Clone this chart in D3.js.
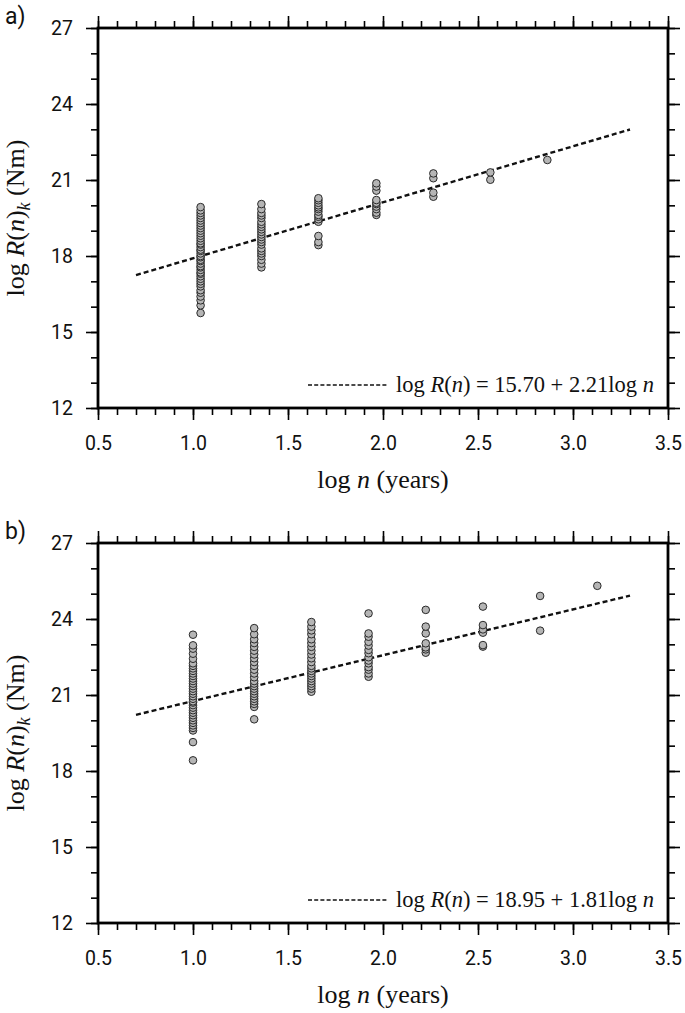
<!DOCTYPE html>
<html>
<head>
<meta charset="utf-8">
<script src="https://cdn.jsdelivr.net/npm/d3@7"></script>
<style>
  html, body { margin: 0; padding: 0; background: #fff; }
  svg { display: block; }
</style>
</head>
<body>
<svg id="chart" width="685" height="1013"></svg>
<script>
// ---------------- DATA ----------------
const xTicks = [0.5, 1.0, 1.5, 2.0, 2.5, 3.0, 3.5];
const yTicks = [12, 15, 18, 21, 24, 27];
const xDomain = [0.5, 3.5];
const yDomain = [12, 27];
const fitRange = [0.7, 3.3];

// Panel a
const aColumnX = [1.04, 1.36, 1.66, 1.965, 2.265, 2.565, 2.865];
const aColumnY = [
  [15.75, 16.05, 16.25, 16.4, 16.55, 16.65, 16.8, 16.9, 17.0, 17.1, 17.2, 17.3, 17.35, 17.45, 17.55, 17.6, 17.7, 17.8, 17.85, 17.95, 18.0, 18.1, 18.2, 18.25, 18.35, 18.45, 18.5, 18.6, 18.7, 18.8, 18.9, 19.0, 19.1, 19.2, 19.3, 19.4, 19.5, 19.6, 19.7, 19.8, 19.93],
  [17.55, 17.7, 17.85, 18.0, 18.1, 18.2, 18.3, 18.45, 18.55, 18.65, 18.75, 18.85, 18.95, 19.05, 19.15, 19.25, 19.35, 19.5, 19.6, 19.7, 19.85, 20.05],
  [18.43, 18.55, 18.79, 19.35, 19.45, 19.55, 19.62, 19.75, 19.85, 19.92, 20.0, 20.1, 20.2, 20.28],
  [19.62, 19.71, 19.85, 19.95, 20.05, 20.1, 20.21, 20.58, 20.74, 20.87],
  [20.34, 20.5, 21.07, 21.26],
  [21.01, 21.3],
  [21.79]
];
const aFit = { intercept: 15.70, slope: 2.21 };
const aLegend = ["15.70", "2.21"];

// Panel b
const bColumnX = [1.0, 1.322, 1.623, 1.924, 2.225, 2.526, 2.827, 3.128];
const bColumnY = [
  [18.42, 19.14, 19.6, 19.7, 19.8, 19.9, 20.0, 20.1, 20.2, 20.3, 20.4, 20.5, 20.6, 20.7, 20.75, 20.85, 20.95, 21.05, 21.15, 21.25, 21.35, 21.45, 21.55, 21.65, 21.75, 21.85, 21.95, 22.05, 22.15, 22.25, 22.43, 22.63, 22.83, 22.96, 23.38],
  [20.04, 20.53, 20.65, 20.75, 20.85, 20.95, 21.05, 21.15, 21.25, 21.35, 21.45, 21.55, 21.7, 21.85, 22.0, 22.15, 22.3, 22.45, 22.6, 22.75, 22.9, 23.05, 23.2, 23.4, 23.64],
  [21.13, 21.25, 21.35, 21.45, 21.55, 21.65, 21.75, 21.85, 21.95, 22.05, 22.15, 22.3, 22.45, 22.6, 22.75, 22.9, 23.05, 23.2, 23.4, 23.55, 23.7, 23.88],
  [21.72, 21.85, 22.0, 22.1, 22.25, 22.36, 22.49, 22.65, 22.78, 22.95, 23.1, 23.3, 23.43, 24.22],
  [22.67, 22.8, 22.88, 23.04, 23.43, 23.7, 24.36],
  [22.91, 22.97, 23.46, 23.59, 23.76, 24.49],
  [23.54, 24.91],
  [25.31]
];
const bFit = { intercept: 18.95, slope: 1.81 };
const bLegend = ["18.95", "1.81"];

// ---------------- DRAW ----------------
const svg = d3.select("#chart");
const left = 98, right = 668, plotH = 380;
const sansFont = "Roboto, 'Liberation Sans', sans-serif";
const serifFont = "'Liberation Serif', 'DejaVu Serif', serif";

function range(a, b, step) {
  const out = [];
  for (let v = a; v <= b + 1e-9; v += step) out.push(+v.toFixed(4));
  return out;
}
const xMinor = range(0.5, 3.5, 0.1);
const yMinor = range(12, 27, 1);

function drawPanel(top, label, colX, colY, fit, legendVals) {
  const bottom = top + plotH;
  const x = d3.scaleLinear().domain(xDomain).range([left, right]);
  const y = d3.scaleLinear().domain(yDomain).range([bottom, top]);
  const g = svg.append("g");

  function styleAxis(sel, hideText) {
    sel.select(".domain").remove();
    sel.selectAll("line").attr("stroke", "#000").attr("stroke-width", 1.6);
    sel.selectAll("text").attr("font-family", sansFont).attr("font-size", 19.5).attr("fill", "#111");
    if (hideText) sel.selectAll("text").remove();
  }

  // minor ticks
  [[d3.axisBottom(x), `translate(0,${bottom})`], [d3.axisTop(x), `translate(0,${top})`]].forEach(([ax, tr]) => {
    g.append("g").attr("transform", tr).call(ax.tickValues(xMinor).tickSize(7).tickFormat(""))
      .call(s => styleAxis(s, true));
  });
  [[d3.axisLeft(y), `translate(${left},0)`], [d3.axisRight(y), `translate(${right},0)`]].forEach(([ax, tr]) => {
    g.append("g").attr("transform", tr).call(ax.tickValues(yMinor).tickSize(7).tickFormat(""))
      .call(s => styleAxis(s, true));
  });

  // major ticks
  g.append("g").attr("transform", `translate(0,${bottom})`)
    .call(d3.axisBottom(x).tickValues(xTicks).tickSize(12).tickPadding(16).tickFormat(d3.format(".1f")))
    .call(s => styleAxis(s, false));
  g.append("g").attr("transform", `translate(0,${top})`)
    .call(d3.axisTop(x).tickValues(xTicks).tickSize(12).tickFormat(""))
    .call(s => styleAxis(s, true));
  g.append("g").attr("transform", `translate(${left},0)`)
    .call(d3.axisLeft(y).tickValues(yTicks).tickSize(12).tickPadding(13).tickFormat(d3.format("d")))
    .call(s => styleAxis(s, false));
  g.append("g").attr("transform", `translate(${right},0)`)
    .call(d3.axisRight(y).tickValues(yTicks).tickSize(12).tickFormat(""))
    .call(s => styleAxis(s, true));

  // fit line
  const fitPts = fitRange.map(v => [v, fit.intercept + fit.slope * v]);
  g.append("path")
    .attr("d", d3.line().x(d => x(d[0])).y(d => y(d[1]))(fitPts))
    .attr("fill", "none").attr("stroke", "#111").attr("stroke-width", 2.4)
    .attr("stroke-dasharray", "5,3");

  // points
  const pts = [];
  colX.forEach((cx, i) => colY[i].forEach(v => pts.push([cx, v])));
  g.append("g").selectAll("circle").data(pts).join("circle")
    .attr("cx", d => x(d[0])).attr("cy", d => y(d[1])).attr("r", 3.8)
    .attr("fill", "#b5b5b5").attr("stroke", "#2a2a2a").attr("stroke-width", 1);

  // frame
  g.append("rect").attr("x", left).attr("y", top).attr("width", right - left).attr("height", plotH)
    .attr("fill", "none").attr("stroke", "#000").attr("stroke-width", 2.8);

  // legend
  const ly = bottom - 23;
  g.append("line").attr("x1", 308).attr("x2", 387).attr("y1", ly).attr("y2", ly)
    .attr("stroke", "#111").attr("stroke-width", 1.6).attr("stroke-dasharray", "4,2.2");
  const lt = g.append("text").attr("x", 396).attr("y", bottom - 16)
    .attr("font-family", serifFont).attr("font-size", 22.5).attr("fill", "#111");
  lt.append("tspan").text("log ");
  lt.append("tspan").attr("font-style", "italic").text("R");
  lt.append("tspan").text("(");
  lt.append("tspan").attr("font-style", "italic").text("n");
  lt.append("tspan").text(`) = ${legendVals[0]} + ${legendVals[1]}log `);
  lt.append("tspan").attr("font-style", "italic").text("n");

  // x title
  const xt = g.append("text").attr("x", (left + right) / 2).attr("y", bottom + 80)
    .attr("text-anchor", "middle").attr("font-family", serifFont).attr("font-size", 26).attr("fill", "#111");
  xt.append("tspan").text("log ");
  xt.append("tspan").attr("font-style", "italic").text("n");
  xt.append("tspan").text(" (years)");

  // y title
  const yt = g.append("text")
    .attr("transform", `translate(24,${(top + bottom) / 2}) rotate(-90)`)
    .attr("text-anchor", "middle").attr("font-family", serifFont).attr("font-size", 26).attr("fill", "#111");
  yt.append("tspan").text("log ");
  yt.append("tspan").attr("font-style", "italic").text("R");
  yt.append("tspan").text("(");
  yt.append("tspan").attr("font-style", "italic").text("n");
  yt.append("tspan").text(")");
  yt.append("tspan").attr("font-style", "italic").attr("font-size", 18).attr("dy", 6).text("k");
  yt.append("tspan").attr("dy", -6).text(" (Nm)");

  // panel label
  svg.append("text").attr("x", 5).attr("y", top - 4)
    .attr("font-family", sansFont).attr("font-size", 23).attr("fill", "#111").text(label);
}

drawPanel(28, "a)", aColumnX, aColumnY, aFit, aLegend);
drawPanel(543, "b)", bColumnX, bColumnY, bFit, bLegend);
</script>
</body>
</html>
